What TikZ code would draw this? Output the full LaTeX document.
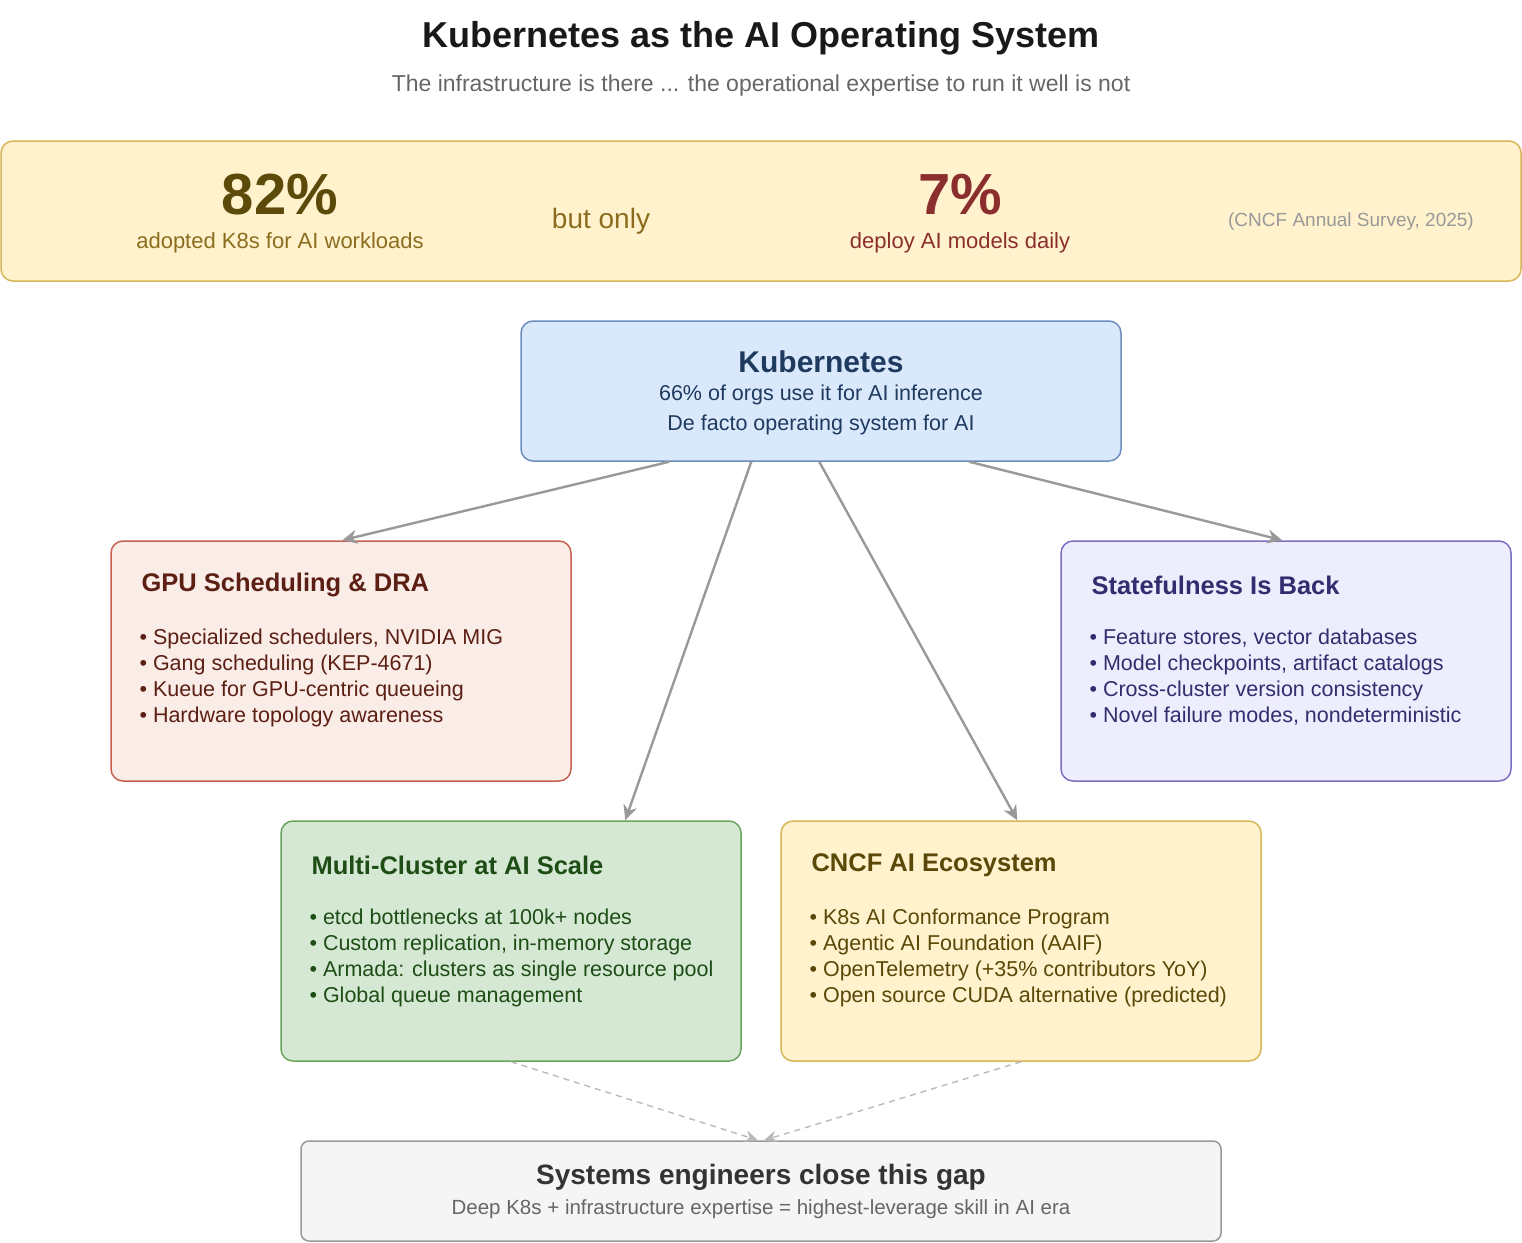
\documentclass[tikz,border=0pt]{standalone}
\usepackage{fontspec}
\setmainfont{Liberation Sans}
\usetikzlibrary{arrows.meta}
\definecolor{banF}{HTML}{FFF2CC}\definecolor{banD}{HTML}{D6B656}
\definecolor{kF}{HTML}{DAE8FC}\definecolor{kD}{HTML}{6C8EBF}\definecolor{kT}{HTML}{1F3A5F}
\definecolor{gF}{HTML}{FAECE7}\definecolor{gD}{HTML}{C8604F}\definecolor{gT}{HTML}{5C1F14}
\definecolor{sF}{HTML}{EEEDFD}\definecolor{sD}{HTML}{7B70C0}\definecolor{sT}{HTML}{332C6E}
\definecolor{mF}{HTML}{D5E8D4}\definecolor{mD}{HTML}{6AA45A}\definecolor{mT}{HTML}{1E4D16}
\definecolor{cT}{HTML}{5A4808}
\definecolor{oT}{HTML}{5C4A0A}\definecolor{oS}{HTML}{8C6D1F}\definecolor{rT}{HTML}{8B2E2E}
\definecolor{bF}{HTML}{F5F5F5}\definecolor{bD}{HTML}{999999}
\tikzset{
 boxx/.style={draw, line width=1.5pt, rounded corners=12pt, inner sep=0pt},
 arr/.style={draw=gray!80, line width=2.4pt, -{Stealth[length=15pt,width=14pt]}},
 darr/.style={draw=gray!55, line width=1.4pt, dashed, dash pattern=on 6pt off 5pt, -{Stealth[length=13pt,width=12pt]}},
 bl/.style={anchor=north west, align=left, font=\fontsize{21.5}{26}\selectfont},
 bt/.style={anchor=west, font=\fontsize{25.5}{30}\selectfont\bfseries},
}
\begin{document}
\begin{tikzpicture}[x=1pt,y=-1pt]
\useasboundingbox (0,0) rectangle (1522,1242);
\node[font=\fontsize{36}{40}\selectfont\bfseries, text=black!90] (title) at (761,38) {Kubernetes as the AI Operating System};
\node[font=\fontsize{23}{28}\selectfont, text=black!60] (sub) at (761,86) {The infrastructure is there ... the operational expertise to run it well is not};
% banner
\node[boxx, draw=banD, fill=banF, minimum width=1520pt, minimum height=140pt] (ban) at (761,211) {};
\node[font=\fontsize{58}{64}\selectfont\bfseries, text=oT] (p82) at (280,195) {82\%};
\node[font=\fontsize{22}{26}\selectfont, text=oS] (t82) at (280,243) {adopted K8s for AI workloads};
\node[font=\fontsize{28}{32}\selectfont, text=oS] (but) at (601,221) {but only};
\node[font=\fontsize{58}{64}\selectfont\bfseries, text=rT] (p7) at (960,195) {7\%};
\node[font=\fontsize{22}{26}\selectfont, text=rT] (t7) at (960,243) {deploy AI models daily};
\node[font=\fontsize{19}{23}\selectfont, text=black!40] (src) at (1351,222) {(CNCF Annual Survey, 2025)};
% kubernetes
\node[boxx, draw=kD, fill=kF, minimum width=600pt, minimum height=140pt] (k) at (821,391) {};
\node[font=\fontsize{30}{34}\selectfont\bfseries, text=kT] (kt) at (821,362) {Kubernetes};
\node[font=\fontsize{21.5}{30}\selectfont, text=kT, align=center] (kl) at (821,410) {66\% of orgs use it for AI inference\\De facto operating system for AI};
% GPU
\node[boxx, draw=gD, fill=gF, minimum width=460pt, minimum height=240pt] (g) at (341,661) {};
\node[bt, text=gT] (gt) at (138,585) {GPU Scheduling \& DRA};
\node[bl, text=gT] (gl) at (136,625) {• Specialized schedulers, NVIDIA MIG\\• Gang scheduling (KEP-4671)\\• Kueue for GPU-centric queueing\\• Hardware topology awareness};
% Stateful
\node[boxx, draw=sD, fill=sF, minimum width=450pt, minimum height=240pt] (s) at (1286,661) {};
\node[bt, text=sT] (st) at (1088,585) {Statefulness Is Back};
\node[bl, text=sT] (sl) at (1086,625) {• Feature stores, vector databases\\• Model checkpoints, artifact catalogs\\• Cross-cluster version consistency\\• Novel failure modes, nondeterministic};
% Multi
\node[boxx, draw=mD, fill=mF, minimum width=460pt, minimum height=240pt] (m) at (511,941) {};
\node[bt, text=mT] (mt) at (308,865) {Multi-Cluster at AI Scale};
\node[bl, text=mT] (ml) at (306,905) {• etcd bottlenecks at 100k+ nodes\\• Custom replication, in-memory storage\\• Armada: clusters as single resource pool\\• Global queue management};
% CNCF
\node[boxx, draw=banD, fill=banF, minimum width=480pt, minimum height=240pt] (c) at (1021,941) {};
\node[bt, text=cT] (ct) at (808,865) {CNCF AI Ecosystem};
\node[bl, text=cT] (cl) at (806,905) {• K8s AI Conformance Program\\• Agentic AI Foundation (AAIF)\\• OpenTelemetry (+35\% contributors YoY)\\• Open source CUDA alternative (predicted)};
% bottom
\node[boxx, draw=bD, fill=bF, minimum width=920pt, minimum height=100pt, rounded corners=8pt] (b) at (761,1191) {};
\node[font=\fontsize{28}{32}\selectfont\bfseries, text=black!80] (btt) at (761,1177) {Systems engineers close this gap};
\node[font=\fontsize{20.5}{24}\selectfont, text=black!60] (bst) at (761,1209) {Deep K8s + infrastructure expertise = highest-leverage skill in AI era};
% arrows
\draw[arr] ([xshift=149pt]k.south west) -- ([xshift=232pt]g.north west);
\draw[arr] ([xshift=231pt]k.south west) -- ([xshift=345pt]m.north west);
\draw[arr] ([xshift=299pt]k.south west) -- ([xshift=237pt]c.north west);
\draw[arr] ([xshift=449pt]k.south west) -- ([xshift=222pt]s.north west);
\draw[darr] (m.south) -- ([xshift=-3pt]b.north);
\draw[darr] (c.south) -- ([xshift=3pt]b.north);
\end{tikzpicture}
\end{document}
